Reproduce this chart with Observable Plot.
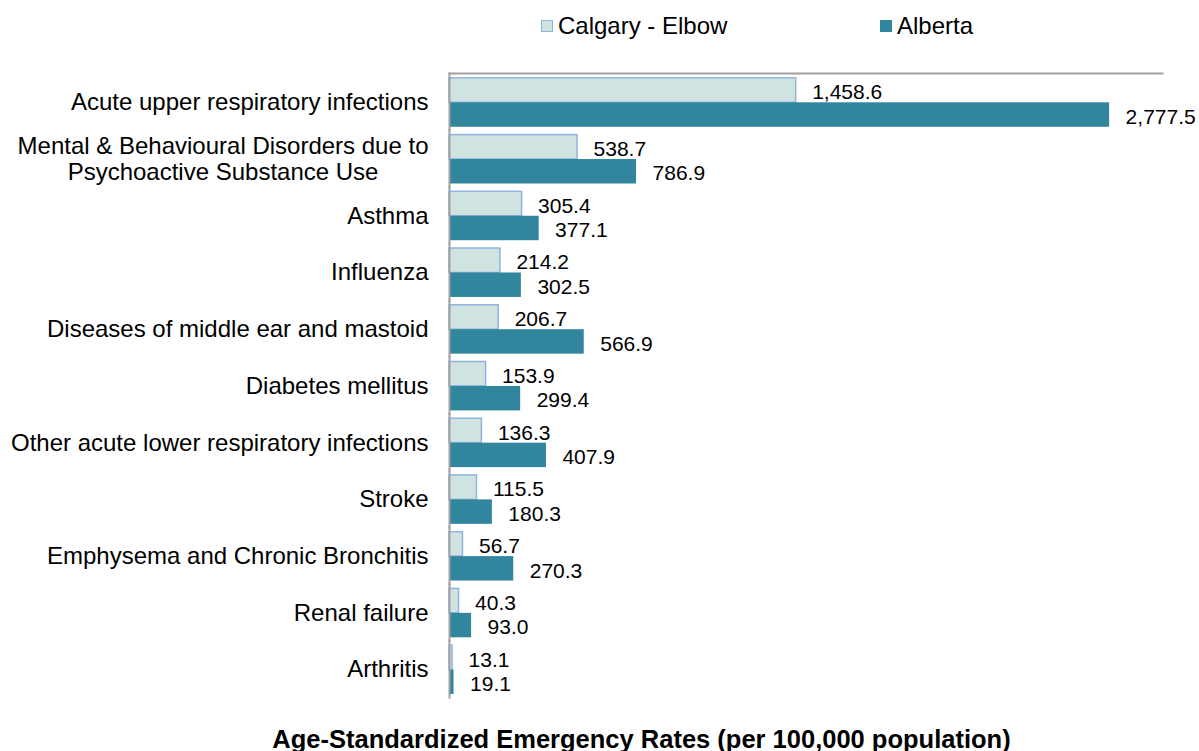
<!DOCTYPE html>
<html>
<head>
<meta charset="utf-8">
<script src="https://cdn.jsdelivr.net/npm/d3@7"></script>
<script src="https://cdn.jsdelivr.net/npm/@observablehq/plot@0.6"></script>
<style>
  html, body { margin: 0; padding: 0; background: #fff; }
  body { width: 1199px; height: 751px; overflow: hidden; font-family: "Liberation Sans", Arial, sans-serif; }
  #legend { height: 50px; position: relative; font-size: 24px; color: #000; }
  .item { position: absolute; top: 14px; display: flex; align-items: center; line-height: 1; }
  .sw { width: 12px; height: 12px; margin-right: 5px; box-sizing: border-box; }
  #chart svg { display: block; }
  #title { position: absolute; left: 0; top: 727px; width: 1199px; text-align: center; font-family: "Liberation Sans", Arial, sans-serif; font-weight: bold; font-size: 25.5px; padding-left: 84px; box-sizing: border-box; line-height: 1; white-space: nowrap; }
</style>
</head>
<body>
<div id="legend"></div>
<div id="chart"></div>
<div id="title">Age-Standardized Emergency Rates (per 100,000 population)</div>
<script>
const categories = [
  "Acute upper respiratory infections",
  "Mental & Behavioural Disorders due to\nPsychoactive Substance Use",
  "Asthma",
  "Influenza",
  "Diseases of middle ear and mastoid",
  "Diabetes mellitus",
  "Other acute lower respiratory infections",
  "Stroke",
  "Emphysema and Chronic Bronchitis",
  "Renal failure",
  "Arthritis"
];
const seriesNames = ["Calgary - Elbow", "Alberta"];
const calgary = [1458.6, 538.7, 305.4, 214.2, 206.7, 153.9, 136.3, 115.5, 56.7, 40.3, 13.1];
const alberta = [2777.5, 786.9, 377.1, 302.5, 566.9, 299.4, 407.9, 180.3, 270.3, 93.0, 19.1];
const xDomain = [0, 3000];

const colors = { "Calgary - Elbow": "#D1E3E0", "Alberta": "#31859C" };
const strokes = { "Calgary - Elbow": "#8DB4E2", "Alberta": "none" };

const calData = categories.map((c, i) => ({category: c, series: seriesNames[0], value: calgary[i]}));
const abData = categories.map((c, i) => ({category: c, series: seriesNames[1], value: alberta[i]}));
const all = calData.concat(abData);
const fmt = d3.format(",.1f");

// legend
const legend = document.getElementById("legend");
const lpos = [541, 880];
seriesNames.forEach((s, i) => {
  const it = document.createElement("div");
  it.className = "item";
  it.style.left = lpos[i] + "px";
  const sw = document.createElement("div");
  sw.className = "sw";
  sw.style.background = colors[s];
  sw.style.border = strokes[s] === "none" ? "none" : "1.5px solid " + strokes[s];
  const t = document.createElement("span");
  t.textContent = s;
  it.appendChild(sw); it.appendChild(t);
  legend.appendChild(it);
});

const chart = Plot.plot({
  width: 1199,
  height: 650,
  marginTop: 23,
  marginBottom: 3,
  marginLeft: 449,
  marginRight: 37,
  style: { fontFamily: "Liberation Sans, Arial, sans-serif", fontSize: "21px", color: "#000", background: "#fff" },
  x: { domain: xDomain, axis: null },
  y: { domain: seriesNames, axis: null, paddingInner: 0, paddingOuter: 0.16, align: 0.62, round: false },
  fy: { domain: categories, padding: 0, label: null, round: false },
  marks: [
    Plot.axisFy({ anchor: "left", tickSize: 0, tickPadding: 21, fontSize: 24, label: null, lineHeight: 1.08, className: "catAxis" }),
    Plot.barX(calData, { x: "value", y: "series", fy: "category", fill: colors[seriesNames[0]], stroke: strokes[seriesNames[0]], strokeWidth: 1.5 }),
    Plot.barX(abData, { x: "value", y: "series", fy: "category", fill: colors[seriesNames[1]] }),
    Plot.text(all, { x: "value", y: "series", fy: "category", text: d => fmt(d.value), textAnchor: "start", dx: 16, dy: 2, fontSize: 21, fill: "#000" }),
    Plot.frame({ anchor: "left", stroke: "#A0A0A0", strokeWidth: 2 }),
    Plot.frame({ anchor: "top", stroke: "#A0A0A0", strokeWidth: 2, fy: () => categories[0] })
  ]
});
document.getElementById("chart").appendChild(chart);

// center multi-line category labels within their block (right edge kept)
chart.querySelectorAll("text").forEach(t => {
  const spans = t.querySelectorAll("tspan");
  if (spans.length > 1) {
    const widths = Array.from(spans, s => s.getComputedTextLength());
    const maxW = Math.max(...widths);
    const x0 = parseFloat(spans[0].getAttribute("x") || 0);
    t.setAttribute("text-anchor", "middle");
    spans.forEach(s => s.setAttribute("x", x0 - maxW / 2));
  }
});
</script>
</body>
</html>
